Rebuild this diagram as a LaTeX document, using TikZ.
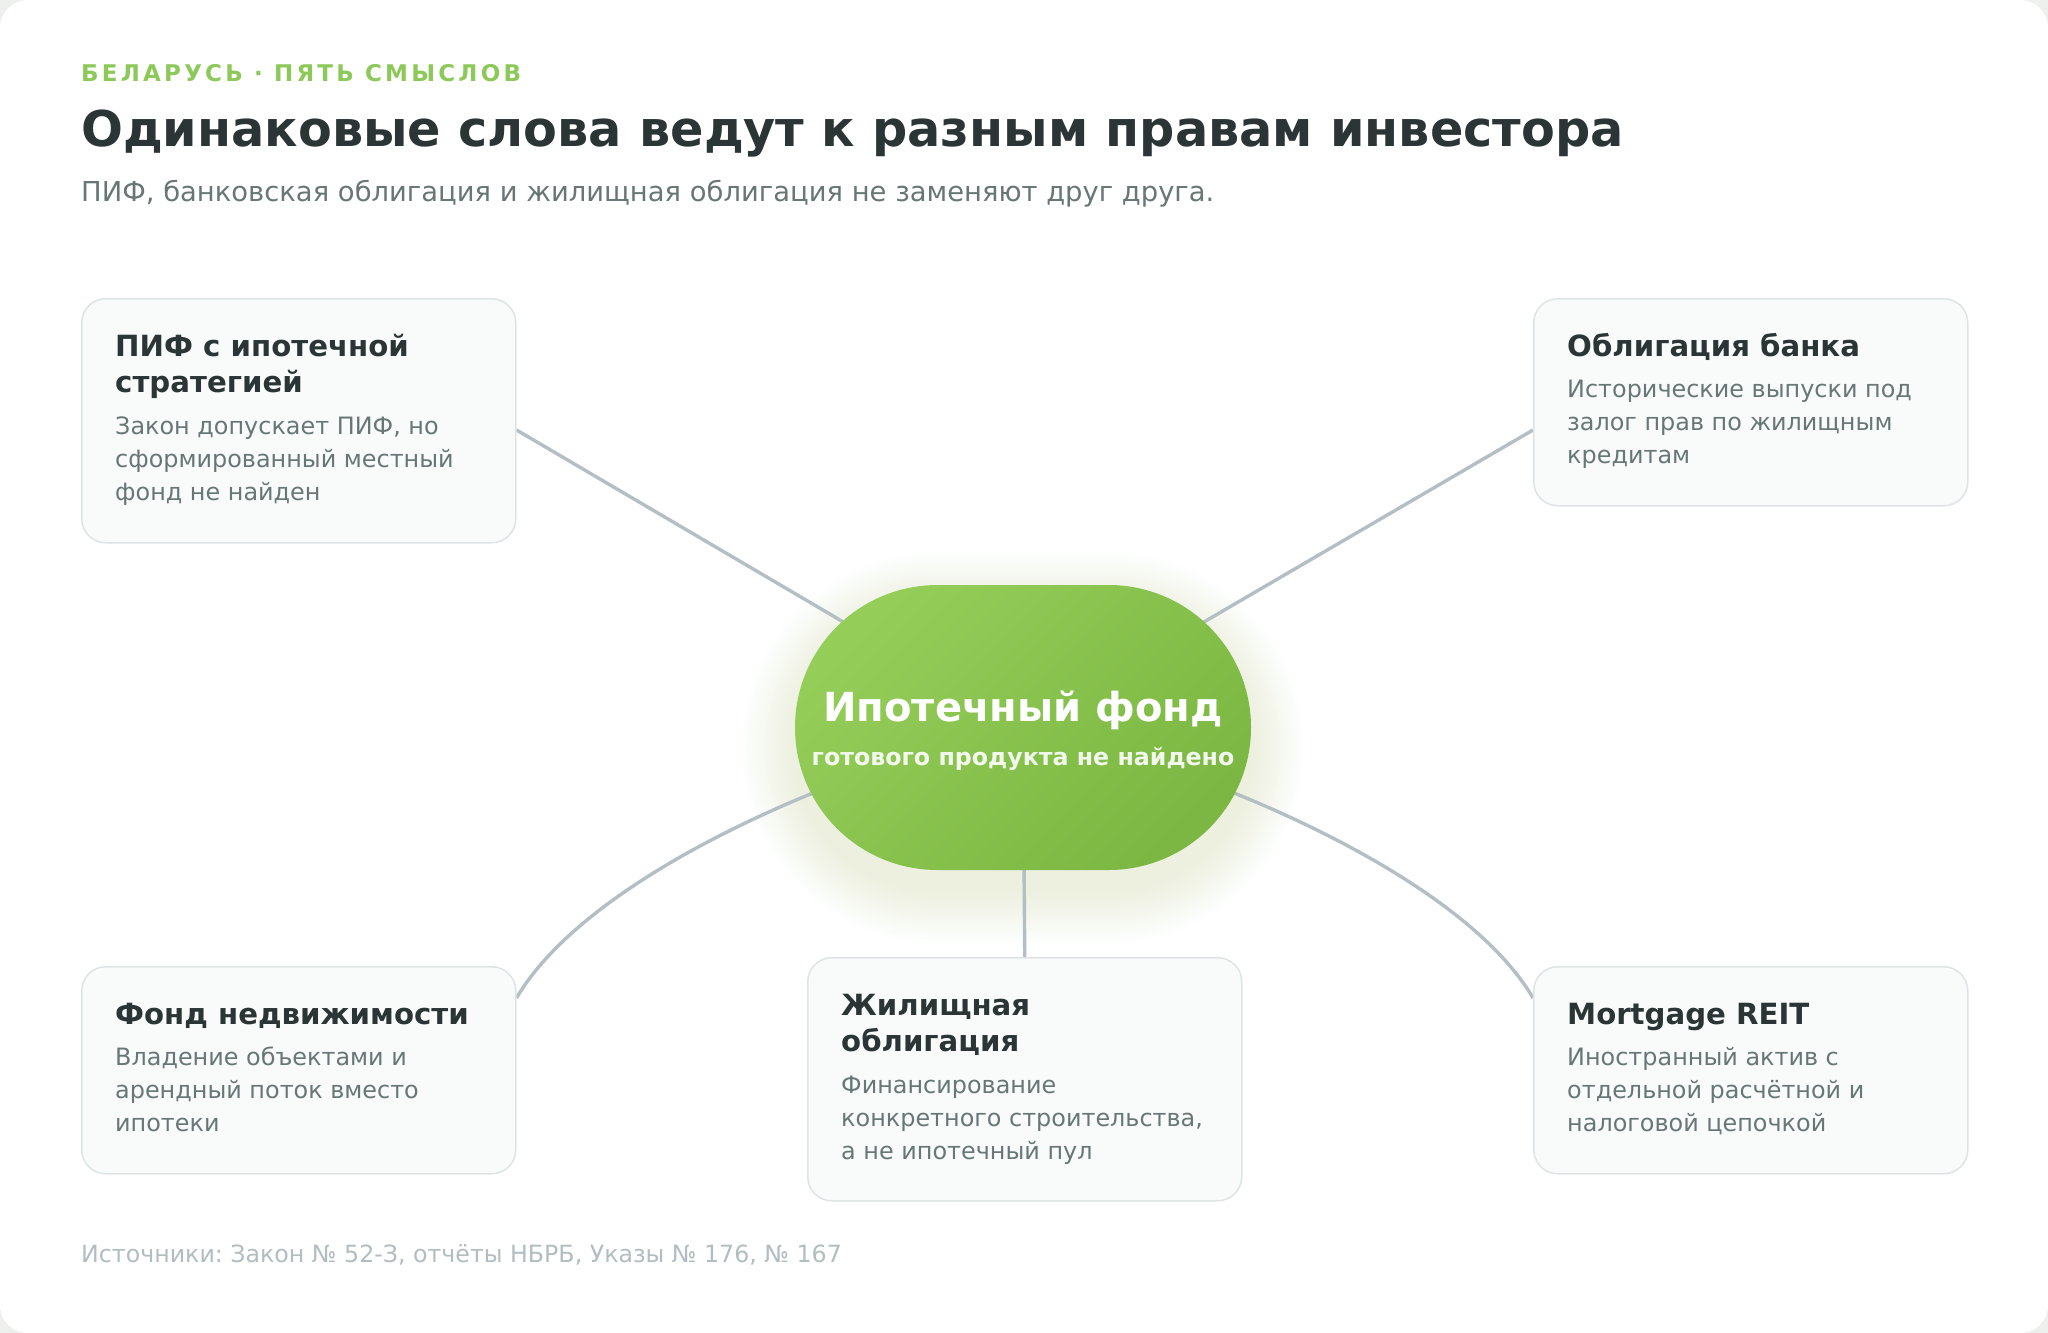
\documentclass[tikz,border=0pt]{standalone}
\usepackage{fontspec}
\setmainfont{DejaVu Sans}
\usetikzlibrary{calc}
\definecolor{pagebg}{HTML}{EEF0EE}
\definecolor{ink}{HTML}{2B3535}
\definecolor{muted}{HTML}{687676}
\definecolor{kicker}{HTML}{8DC95A}
\definecolor{faint}{HTML}{B2BDC1}
\definecolor{cardfill}{HTML}{F9FBFB}
\definecolor{cardline}{HTML}{DEE4E5}
\definecolor{connc}{HTML}{B4BFC4}
\definecolor{hubA}{HTML}{95CD59}
\definecolor{hubB}{HTML}{7BB742}
\definecolor{glowc}{HTML}{7CC040}
\pgfdeclarelayer{bglayer}
\pgfdeclarelayer{glowlayer}
\pgfdeclarelayer{linelayer}
\pgfsetlayers{bglayer,glowlayer,linelayer,main}
\frenchspacing
\newcommand\cardttl[1]{\parbox[t]{380pt}{\frenchspacing\fontsize{29.2}{36.6}\selectfont\bfseries\raggedright #1}}
\newcommand\cardbody[1]{\parbox[t]{390pt}{\frenchspacing\fontsize{23.9}{33.4}\selectfont\raggedright #1}}
\tikzset{
  card/.style={draw=cardline, line width=1.5pt, fill=cardfill, rounded corners=24pt,
    minimum width=434pt, inner sep=0pt, anchor=north west},
  ctitle/.style={anchor=base west, inner sep=0pt, text=ink},
  cbody/.style={anchor=base west, inner sep=0pt, text=muted},
  conn/.style={draw=connc, line width=3.4pt},
  hub/.style={rectangle, rounded corners=142.5pt, minimum width=456pt, minimum height=285pt,
    inner sep=0pt, top color=hubA, bottom color=hubB, shading angle=45, draw=none}
}
\begin{document}
\begin{tikzpicture}[x=1pt,y=-1pt]
\useasboundingbox (0,0) rectangle (2048,1333);
\begin{pgfonlayer}{bglayer}
\fill[pagebg] (0,0) rectangle (2048,1333);
\fill[white, rounded corners=28pt] (0,0) rectangle (2048,1333);
\end{pgfonlayer}

% header
\node[anchor=base west, inner sep=0pt, text=kicker,
  font=\fontsize{23}{27}\selectfont\bfseries\addfontfeatures{LetterSpace=14}] (kick) at (81,81) {БЕЛАРУСЬ · ПЯТЬ СМЫСЛОВ};
\node[anchor=base west, inner sep=0pt, text=ink, font=\fontsize{49.3}{58}\selectfont\bfseries] (title) at (81,146)
  {Одинаковые слова ведут к разным правам инвестора};
\node[anchor=base west, inner sep=0pt, text=muted, font=\fontsize{27.4}{32}\selectfont] (sub) at (81,201)
  {ПИФ, банковская облигация и жилищная облигация не заменяют друг друга.};

% cards
\node[card, minimum height=244pt] (tl) at (81,298) {};
\node[card, minimum height=207pt] (tr) at (1533,298) {};
\node[card, minimum height=207pt] (bl) at (81,966) {};
\node[card, minimum height=243pt] (bc) at (807,957) {};
\node[card, minimum height=207pt] (br) at (1533,966) {};

\node[ctitle] (tlT) at ($(tl.north west)+(34,58)$) {\cardttl{ПИФ с ипотечной\\стратегией}};
\node[cbody] (tlB) at ($(tl.north west)+(34,136)$) {\cardbody{Закон допускает ПИФ, но\\сформированный местный\\фонд не найден}};

\node[ctitle] (trT) at ($(tr.north west)+(34,58)$) {\cardttl{Облигация банка}};
\node[cbody] (trB) at ($(tr.north west)+(34,99)$) {\cardbody{Исторические выпуски под\\залог прав по жилищным\\кредитам}};

\node[ctitle] (blT) at ($(bl.north west)+(34,58)$) {\cardttl{Фонд недвижимости}};
\node[cbody] (blB) at ($(bl.north west)+(34,99)$) {\cardbody{Владение объектами и\\арендный поток вместо\\ипотеки}};

\node[ctitle] (bcT) at ($(bc.north west)+(34,58)$) {\cardttl{Жилищная\\облигация}};
\node[cbody] (bcB) at ($(bc.north west)+(34,136)$) {\cardbody{Финансирование\\конкретного строительства,\\а не ипотечный пул}};

\node[ctitle] (brT) at ($(br.north west)+(34,58)$) {\cardttl{Mortgage REIT}};
\node[cbody] (brB) at ($(br.north west)+(34,99)$) {\cardbody{Иностранный актив с\\отдельной расчётной и\\налоговой цепочкой}};

% hub
\node[hub] (c) at (1023,727.5) {};
\node[anchor=base, inner sep=0pt, text=white, font=\fontsize{40}{48}\selectfont\bfseries] (hubT) at (1023,721) {Ипотечный фонд};
\node[anchor=base, inner sep=0pt, text=white, text opacity=0.9, font=\fontsize{23.7}{28}\selectfont\bfseries] (hubS) at (1023,765) {готового продукта не найдено};

% glow
\begin{pgfonlayer}{glowlayer}
\foreach \i in {1,...,16}{
  \pgfmathsetmacro\rr{142.5+3.3*\i}
  \fill[glowc, opacity=0.007, rounded corners=\rr pt]
    ($(c.center)+({-228-3.3*\i},{-142.5-3.3*\i+20})$) rectangle ($(c.center)+({228+3.3*\i},{142.5+3.3*\i+20})$);
}
\end{pgfonlayer}

% connectors
\begin{pgfonlayer}{linelayer}
\draw[conn] ($(tl.north east)+(0,132)$) -- (c.center);
\draw[conn] ($(tr.north west)+(0,132)$) -- (c.center);
\draw[conn] ($(bl.north east)+(0,32)$) .. controls +(75,-128) and +(-163,33) .. (c.center);
\draw[conn] ($(br.north west)+(0,32)$) .. controls +(-75,-128) and +(163,33) .. (c.center);
\draw[conn] (c.center) -- (bc.north);
\end{pgfonlayer}

% footer
\node[anchor=base west, inner sep=0pt, text=faint, font=\fontsize{23.7}{28}\selectfont] (src) at (81,1262)
  {Источники: Закон № 52-З, отчёты НБРБ, Указы № 176, № 167};
\end{tikzpicture}
\end{document}
